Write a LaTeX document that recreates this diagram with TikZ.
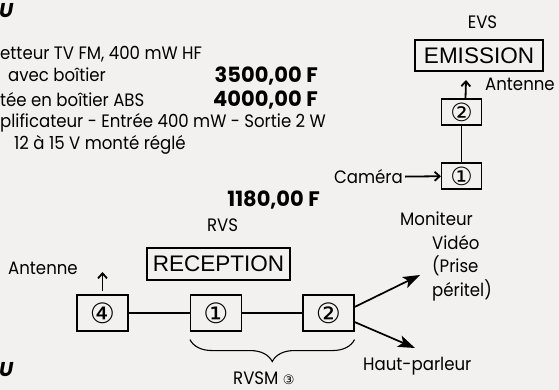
\documentclass[tikz,border=0pt]{standalone}
\usepackage{fontspec}
\setmainfont{Poppins}[FakeStretch=0.92]
\newfontfamily\prixfont{Poppins}
\newfontfamily\helv{Liberation Sans}
\newfontfamily\symb{DejaVu Sans}
\usetikzlibrary{positioning, arrows.meta, decorations.pathreplacing}
\definecolor{paper}{RGB}{243,241,240}

\begin{document}
\begin{tikzpicture}[
  x=1pt, y=-1pt,
  every node/.style={inner sep=0pt},
  txt/.style={font=\fontsize{18}{23.5}\selectfont},
  prix/.style={font=\prixfont\fontsize{21}{24}\selectfont\bfseries, anchor=base east},
  titre/.style={draw, line width=1.1pt, font=\helv\fontsize{22.5}{26}\selectfont,
                minimum height=31pt},
  bloc/.style={draw, line width=1.1pt, font=\symb\fontsize{28}{30}\selectfont,
               minimum width=51pt, minimum height=36pt},
  petit/.style={bloc, minimum width=40pt, minimum height=26pt,
                font=\symb\fontsize{25}{27}\selectfont},
  fil/.style={line width=1.1pt},
  fleche/.style={line width=1.8pt, -{Straight Barb[length=5pt,width=9pt]}},
  grosse/.style={line width=1.7pt, -{Stealth[length=17pt,width=12pt,inset=4pt]}},
]
  \useasboundingbox (0,0) rectangle (559,390);
  \clip (0,0) rectangle (559,390);
  \fill[paper] (0,0) rectangle (559,390);

  % tarifs
  \node[font=\prixfont\fontsize{20}{22}\selectfont\bfseries\itshape, anchor=north west] (u1) at (-1,3) {U};
  \node[txt, anchor=base west] (l1) at (0,60) {etteur TV FM, 400 mW HF};
  \node[txt, anchor=base west] (l2) at (8,82) {avec boîtier};
  \node[txt, anchor=base west] (l3) at (0,107) {tée en boîtier ABS};
  \node[txt, anchor=base west] (l4) at (0,128) {plificateur - Entrée 400 mW - Sortie 2 W};
  \node[txt, anchor=base west] (l5) at (14,150) {12 à 15 V monté réglé};
  \node[prix] (p1) at (318,83) {3500,00 F};
  \node[prix] (p2) at (318,107) {4000,00 F};
  \node[prix] (p3) at (320,207) {1180,00 F};
  \node[font=\prixfont\fontsize{20}{22}\selectfont\bfseries\itshape, anchor=north west] (u2) at (-1,362) {U};

  % emission
  \node[txt] (evs) at (482.5,22.5) {EVS};
  \node[titre, minimum width=128pt] (emission) at (479,55.5) {EMISSION};
  \node[petit] (e2) at (461.5,112) {②};
  \node[petit] (e1) at (461.5,176) {①};
  \draw[fil] (e2) -- (e1);
  \coordinate (antE) at (466,80);
  \draw[fleche] ([xshift=4pt]e2.north) -- (antE);
  \node[txt, anchor=base west] (antEtxt) at (485,91) {Antenne};
  \node[txt, anchor=east] (cam) at (403,177) {Caméra};
  \draw[fleche, shorten <=2pt] (cam) -- (e1);

  % reception
  \node[txt] (rvs) at (222.5,225) {RVS};
  \node[titre, minimum width=143pt, minimum height=32pt] (reception) at (218.5,264) {RECEPTION};
  \node[bloc] (r4) at (102.5,313) {④};
  \node[bloc] (r1) at (216,313) {①};
  \node[bloc] (r2) at (328.5,313) {②};
  \draw[fil] (r4) -- (r1) -- (r2);
  \coordinate (antR) at (102.5,272);
  \draw[fleche] ([yshift=3pt]r4.north) -- (antR);
  \node[txt, anchor=base west] (antRtxt) at (8,274) {Antenne};

  \node[txt, anchor=base west, align=left] (moniteur) at (400,296)
    {Moniteur\\\hspace*{32pt}Vidéo\\\hspace*{32pt}(Prise\\\hspace*{32pt}péritel)};
  \node[txt, anchor=base west] (hp) at (363,370) {Haut-parleur};
  \coordinate (mon) at (420,275);
  \coordinate (hpt) at (415,348);
  \draw[grosse] ([yshift=6pt]r2.east) -- (mon);
  \draw[grosse] ([yshift=-9pt]r2.east) -- (hpt);

  \draw[fil, decorate, decoration={brace, amplitude=22pt, mirror}]
    ([yshift=-8pt]r1.south west) -- ([yshift=-8pt]r2.south east);
  \node[txt, anchor=base west] (rvsm) at (233,384)
    {RVSM {\symb\fontsize{13}{15}\selectfont③}};
\end{tikzpicture}
\end{document}
